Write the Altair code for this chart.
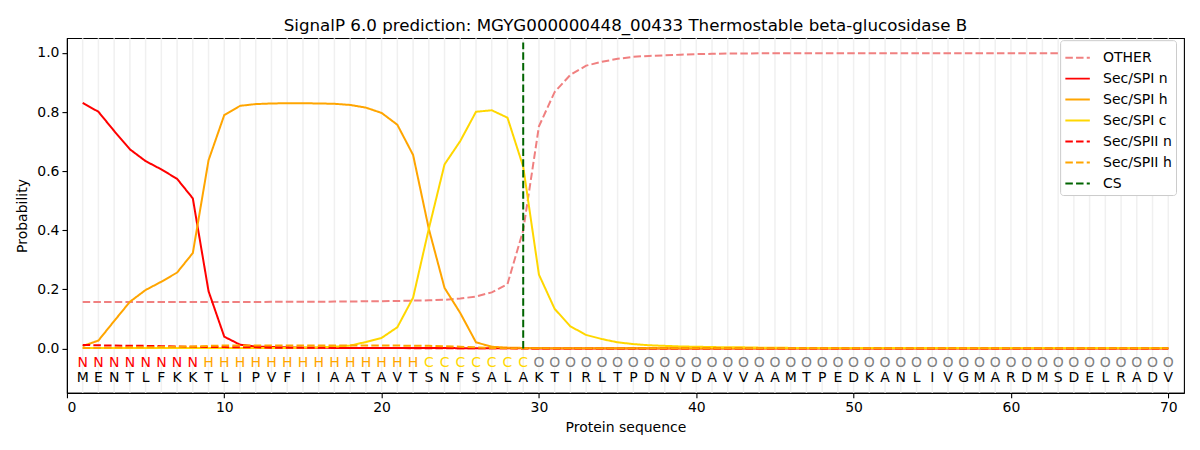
import altair as alt
import pandas as pd

# ---------------- data ----------------
positions = list(range(1, 71))
residues = list("MENTLFKKTLIPVFIIAATAVTSNFSALAKTIRLTPDNVDAVVAAMTPEDKANLIVGMARDMSDELRADV")
region_labels = list("NNNNNNNN" + "HHHHHHHHHHHHHH" + "CCCCCCC" + "O" * 41)

other = [0.157, 0.157, 0.157, 0.157, 0.157, 0.157, 0.157, 0.157, 0.157, 0.157,
         0.157, 0.157, 0.158, 0.158, 0.158, 0.158, 0.159, 0.159, 0.160, 0.160,
         0.161, 0.162, 0.163, 0.165, 0.169, 0.176, 0.190, 0.218, 0.400, 0.752,
         0.868, 0.926, 0.957, 0.970, 0.980, 0.987, 0.990, 0.992, 0.994, 0.996,
         0.997, 0.998, 0.998, 0.999, 0.999, 0.999, 0.999, 0.999, 0.999, 0.999,
         0.999, 0.999, 0.999, 0.999, 0.999, 0.999, 0.999, 0.999, 0.999, 0.999,
         0.999, 0.999, 0.999, 0.999, 0.999, 0.999, 0.999, 0.999, 0.999, 0.999]

spi_n = [0.831, 0.801, 0.736, 0.674, 0.634, 0.606, 0.574, 0.508, 0.194, 0.040,
         0.013, 0.007, 0.005, 0.004, 0.003, 0.003, 0.002, 0.002, 0.002, 0.002,
         0.002, 0.002, 0.002, 0.002, 0.001, 0.001, 0.001, 0.001, 0.001, 0.000,
         0.000, 0.000, 0.000, 0.000, 0.000, 0.000, 0.000, 0.000, 0.000, 0.000,
         0.000, 0.000, 0.000, 0.000, 0.000, 0.000, 0.000, 0.000, 0.000, 0.000,
         0.000, 0.000, 0.000, 0.000, 0.000, 0.000, 0.000, 0.000, 0.000, 0.000,
         0.000, 0.000, 0.000, 0.000, 0.000, 0.000, 0.000, 0.000, 0.000, 0.000]

spi_h = [0.008, 0.027, 0.093, 0.158, 0.198, 0.226, 0.257, 0.323, 0.637, 0.790,
         0.821, 0.827, 0.829, 0.830, 0.830, 0.829, 0.828, 0.824, 0.815, 0.797,
         0.757, 0.655, 0.405, 0.205, 0.120, 0.021, 0.006, 0.003, 0.002, 0.002,
         0.001, 0.001, 0.001, 0.001, 0.001, 0.001, 0.001, 0.001, 0.001, 0.001,
         0.001, 0.001, 0.001, 0.001, 0.001, 0.001, 0.001, 0.001, 0.001, 0.001,
         0.001, 0.001, 0.001, 0.001, 0.001, 0.001, 0.001, 0.001, 0.001, 0.001,
         0.001, 0.001, 0.001, 0.001, 0.001, 0.001, 0.001, 0.001, 0.001, 0.001]

spi_c = [0.002, 0.002, 0.002, 0.002, 0.002, 0.002, 0.002, 0.002, 0.002, 0.002,
         0.002, 0.002, 0.002, 0.002, 0.003, 0.004, 0.006, 0.010, 0.022, 0.036,
         0.072, 0.172, 0.405, 0.623, 0.702, 0.801, 0.806, 0.781, 0.615, 0.250,
         0.134, 0.075, 0.046, 0.032, 0.021, 0.015, 0.011, 0.009, 0.007, 0.006,
         0.005, 0.004, 0.004, 0.003, 0.003, 0.002, 0.002, 0.002, 0.002, 0.002,
         0.002, 0.002, 0.002, 0.002, 0.002, 0.002, 0.002, 0.002, 0.002, 0.002,
         0.002, 0.002, 0.002, 0.002, 0.002, 0.002, 0.002, 0.002, 0.002, 0.002]

spii_n = [0.012, 0.011, 0.010, 0.009, 0.009, 0.008, 0.007, 0.006, 0.005, 0.005,
          0.004, 0.004, 0.003, 0.003, 0.003, 0.003, 0.002, 0.002, 0.002, 0.002,
          0.002, 0.001, 0.001, 0.001, 0.001, 0.001, 0.001, 0.001, 0.000, 0.000,
          0.000, 0.000, 0.000, 0.000, 0.000, 0.000, 0.000, 0.000, 0.000, 0.000,
          0.000, 0.000, 0.000, 0.000, 0.000, 0.000, 0.000, 0.000, 0.000, 0.000,
          0.000, 0.000, 0.000, 0.000, 0.000, 0.000, 0.000, 0.000, 0.000, 0.000,
          0.000, 0.000, 0.000, 0.000, 0.000, 0.000, 0.000, 0.000, 0.000, 0.000]

spii_h = [0.002, 0.002, 0.003, 0.004, 0.004, 0.005, 0.006, 0.007, 0.009, 0.010,
          0.010, 0.010, 0.010, 0.010, 0.010, 0.010, 0.010, 0.010, 0.010, 0.010,
          0.010, 0.009, 0.009, 0.008, 0.006, 0.004, 0.002, 0.001, 0.001, 0.001,
          0.001, 0.001, 0.001, 0.001, 0.001, 0.001, 0.001, 0.001, 0.001, 0.001,
          0.001, 0.001, 0.001, 0.001, 0.001, 0.001, 0.001, 0.001, 0.001, 0.001,
          0.001, 0.001, 0.001, 0.001, 0.001, 0.001, 0.001, 0.001, 0.001, 0.001,
          0.001, 0.001, 0.001, 0.001, 0.001, 0.001, 0.001, 0.001, 0.001, 0.001]

cs_position = 29
cs_top = 1.035

series_names = ["OTHER", "Sec/SPI n", "Sec/SPI h", "Sec/SPI c", "Sec/SPII n", "Sec/SPII h", "CS"]
series_colors = ["#F08080", "#FF0000", "#FFA500", "#FFD700", "#FF0000", "#FFA500", "#006400"]
DASH = [7.5, 3.2]
SOLID = [1, 0]
series_dashes = [DASH, SOLID, SOLID, SOLID, DASH, DASH, DASH]

label_colors = {"N": "#FF0000", "H": "#FFA500", "C": "#FFD700", "O": "#808080"}

# ---------------- tables ----------------
rows = []
for name, vals in zip(series_names[:6], [other, spi_n, spi_h, spi_c, spii_n, spii_h]):
    for p, v in zip(positions, vals):
        rows.append({"pos": p, "prob": v, "series": name})
lines_df = pd.DataFrame(rows)

cs_df = pd.DataFrame({"pos": [cs_position], "y0": [0.0], "y1": [cs_top], "series": ["CS"]})
grid_df = pd.DataFrame({"pos": positions})
ann_df = pd.DataFrame({"pos": positions, "res": residues, "lab": region_labels})

FONT = "DejaVu Sans"

x_enc = alt.X("pos:Q", scale=alt.Scale(domain=[0, 71], nice=False, zero=False),
              axis=alt.Axis(values=[0, 10, 20, 30, 40, 50, 60, 70], title="Protein sequence"))
y_scale = alt.Scale(domain=[-0.15, 1.05], nice=False, zero=False)

legend = alt.Legend(title=None, orient="none", legendX=994, legendY=2, symbolType="stroke")
color_enc = alt.Color("series:N",
                      scale=alt.Scale(domain=series_names, range=series_colors),
                      legend=legend, sort=series_names)
dash_enc = alt.StrokeDash("series:N",
                          scale=alt.Scale(domain=series_names, range=series_dashes),
                          legend=legend, sort=series_names)

grid = alt.Chart(grid_df).mark_rule(color="#f0f0f0", strokeWidth=1.5).encode(
    x=x_enc
)

lines = alt.Chart(lines_df).mark_line(strokeWidth=2).encode(
    x=x_enc,
    y=alt.Y("prob:Q", scale=y_scale,
            axis=alt.Axis(values=[0.0, 0.2, 0.4, 0.6, 0.8, 1.0], format=".1f", title="Probability")),
    color=color_enc,
    strokeDash=dash_enc,
    detail="series:N",
)

cs_rule = alt.Chart(cs_df).mark_rule(strokeWidth=2).encode(
    x=x_enc,
    y=alt.Y("y0:Q", scale=y_scale),
    y2="y1:Q",
    color=color_enc,
    strokeDash=dash_enc,
)

text_layers = []
for lab, col in label_colors.items():
    text_layers.append(
        alt.Chart(ann_df).transform_filter(alt.datum.lab == lab).mark_text(
            color=col, fontSize=14, font=FONT, baseline="middle", align="center"
        ).encode(x=x_enc, y=alt.datum(-0.049), text="lab:N")
    )
res_layer = alt.Chart(ann_df).mark_text(
    color="#000000", fontSize=14, font=FONT, baseline="middle", align="center"
).encode(x=x_enc, y=alt.datum(-0.099), text="res:N")

chart = alt.layer(grid, lines, cs_rule, *text_layers, res_layer).properties(
    width=1118,
    height=355,
    padding={"left": 59, "top": 30, "right": 8, "bottom": 52},
    autosize=alt.AutoSizeParams(type="none"),
    title=alt.Title("SignalP 6.0 prediction: MGYG000000448_00433 Thermostable beta-glucosidase B",
                    font=FONT, fontSize=16.7, fontWeight="normal", color="#000000",
                    anchor="middle", frame="group", offset=3),
).configure_view(
    stroke="#000000", strokeWidth=1.1
).configure_axis(
    grid=False, domainColor="#000000", tickColor="#000000", tickSize=5, tickWidth=1.1,
    domainWidth=1.1,
    labelFont=FONT, labelFontSize=14, labelColor="#000000", labelPadding=3,
    titleFont=FONT, titleFontSize=14, titleColor="#000000", titleFontWeight="normal",
).configure_axisX(
    titlePadding=6
).configure_axisY(
    titlePadding=7
).configure_legend(
    labelFont=FONT, labelFontSize=14, labelColor="#000000",
    fillColor="#ffffff", strokeColor="#cccccc", cornerRadius=3, padding=4,
    symbolSize=600, symbolStrokeWidth=2, rowPadding=0, labelOffset=12,
)

chart.save("out.html", embed_options={"renderer": "svg", "actions": False})
